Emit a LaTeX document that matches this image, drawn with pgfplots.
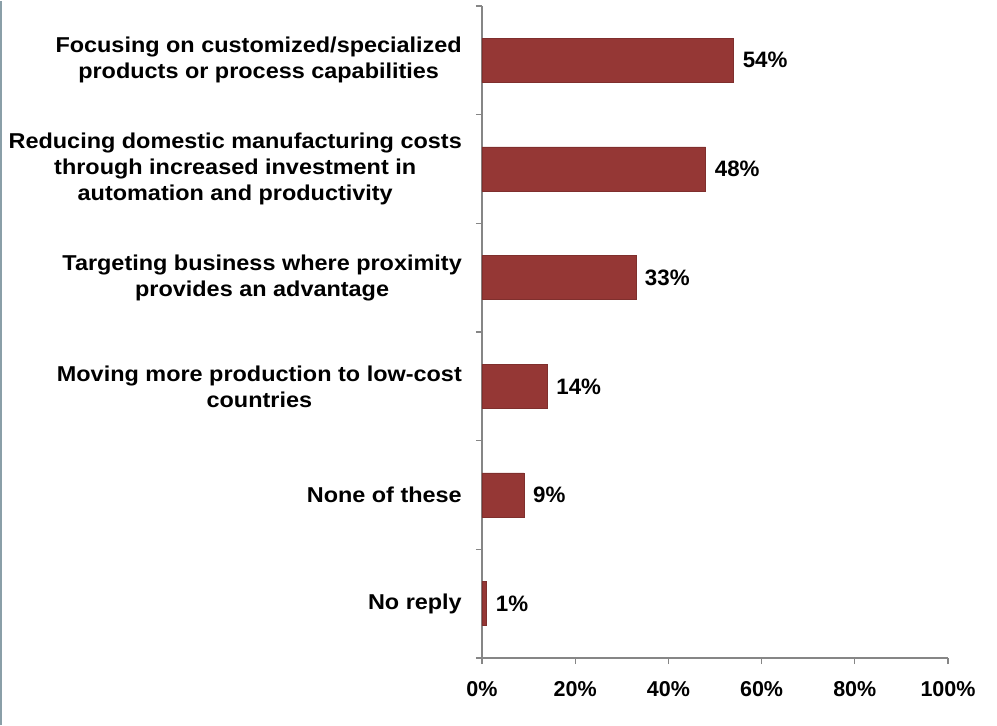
\documentclass[border=0pt]{standalone}
\usepackage{fontspec}
\setmainfont{Liberation Sans}
\newfontfamily\widefont{Liberation Sans}[FakeStretch=1.09]
\usepackage{pgfplots}
\pgfplotsset{compat=1.18}
\definecolor{barred}{HTML}{953735}
\definecolor{axgray}{HTML}{868686}
\definecolor{edgeblue}{HTML}{8A9FA8}
\newcommand{\lblfont}{\widefont\fontsize{21.5bp}{26bp}\selectfont\bfseries}
\newcommand{\tckfont}{\fontsize{21.5bp}{26bp}\selectfont\bfseries}
\newcommand{\valfont}{\fontsize{22.3bp}{26bp}\selectfont\bfseries}
\begin{document}
\begin{tikzpicture}
\begin{axis}[
  scale only axis, width=466bp, height=652bp,
  xbar, bar width=44bp,
  xmin=0, xmax=100, ymin=-0.5, ymax=5.5,
  axis lines*=left,
  axis line style={axgray, line width=1.2pt, -},
  xtick={0,20,...,100},
  xticklabel={\pgfmathprintnumber{\tick}\%},
  ytick={0,...,5},
  yticklabels={No reply, None of these, {Moving more production to low-cost\\countries}, {Targeting business where proximity\\provides an advantage}, {Reducing domestic manufacturing costs\\through increased investment in\\automation and productivity}, {Focusing on customized/specialized\\products or process capabilities}},
  minor ytick={-0.5,0.5,...,5.5},
  major y tick style={draw=none},
  tick align=outside,
  tick style={axgray, line width=1.2pt},
  major tick length=6bp, minor tick length=6bp,
  /pgf/number format/assume math mode=true,
  yticklabel style={align=center, font=\lblfont, text=black, anchor=east, inner sep=0pt, xshift=-14bp},
  xticklabel style={font=\tckfont, text=black, inner sep=0pt, yshift=-17bp},
  nodes near coords={\pgfmathprintnumber{\pgfplotspointmeta}\%},
  nodes near coords style={font=\valfont, text=black, anchor=west, inner sep=0pt, xshift=9bp},
  clip=false,
]
\addplot[fill=barred, draw=barred!85!black] coordinates {(54,5) (48,4) (33,3) (14,2) (9,1) (1,0)};
\end{axis}
\pgfresetboundingbox
\path (-482bp,-67bp) rectangle (515bp,657bp);
\draw[edgeblue, line width=2bp] (-481bp,-67bp) -- (-481bp,657bp);
\end{tikzpicture}
\end{document}
